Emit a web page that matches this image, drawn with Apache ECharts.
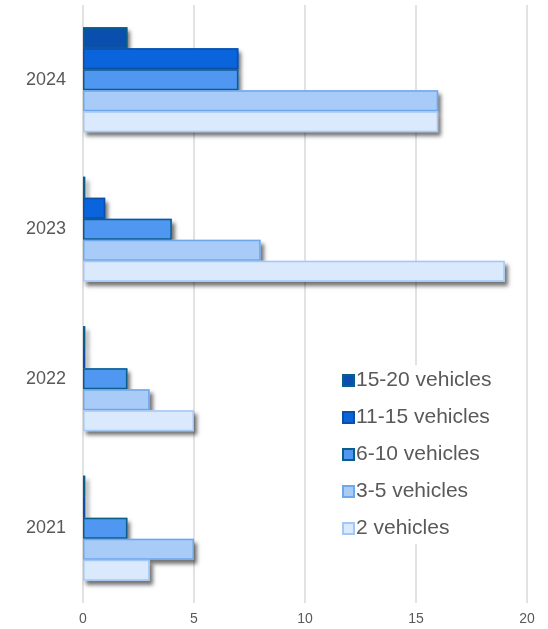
<!DOCTYPE html>
<html>
<head>
<meta charset="utf-8">
<script src="https://cdn.jsdelivr.net/npm/echarts@6/dist/echarts.min.js"></script>
<style>
  html, body { margin: 0; padding: 0; background: #fff; }
  #chart { width: 548px; height: 629px; }
</style>
</head>
<body>
<div id="chart"></div>
<script>
// years, bottom to top
var years = ['2021', '2022', '2023', '2024'];
var xTicks = [0, 5, 10, 15, 20];

// one array per household size, in year order above
var v2 = [3, 5, 19, 16];
var v3to5 = [5, 3, 8, 16];
var v6to10 = [2, 2, 4, 7];
var v11to15 = [0.1, 0.1, 1, 7];
var v15to20 = [0.1, 0.1, 0.1, 2];

var groups = [
    { name: '15-20 vehicles', data: v15to20, fill: '#0a4fae', border: '#0a5e8a' },
    { name: '11-15 vehicles', data: v11to15, fill: '#0a64dc', border: '#0b4fa8' },
    { name: '6-10 vehicles', data: v6to10, fill: '#5097f2', border: '#0a5e8a' },
    { name: '3-5 vehicles', data: v3to5, fill: '#a8cbf7', border: '#6fa8ea' },
    { name: '2 vehicles', data: v2, fill: '#dbe9fc', border: '#a4c8f5' }
];

var chart = echarts.init(document.getElementById('chart'));

// bordered bars on top (no shadow), so the stroke does not cast a shadow inside
var series = [];
groups.forEach(function (g) {
    series.push({
        name: g.name,
        type: 'bar',
        yAxisIndex: 1,
        data: g.data,
        barWidth: 21,
        barGap: '0%',
        z: 3,
        itemStyle: { color: g.fill, borderColor: g.border, borderWidth: 1.5 },
        emphasis: { disabled: true }
    });
});
// shadow layer underneath
groups.forEach(function (g) {
    series.push({
        name: g.name,
        type: 'bar',
        yAxisIndex: 0,
        data: g.data,
        barWidth: 21,
        barGap: '0%',
        z: 2,
        itemStyle: {
            color: g.fill,
            shadowColor: 'rgba(0,0,0,0.55)',
            shadowBlur: 4,
            shadowOffsetX: 3,
            shadowOffsetY: 4
        },
        emphasis: { disabled: true }
    });
});

var yLabel = {
    fontFamily: 'Liberation Sans',
    fontSize: 18,
    color: '#595959',
    margin: 17
};

var option = {
    animation: false,
    grid: {
        left: 83,
        right: 21,
        top: 5,
        bottom: 26
    },
    legend: {
        orient: 'vertical',
        left: 336,
        top: 365,
        icon: 'rect',
        itemWidth: 11,
        itemHeight: 11,
        itemGap: 14,
        padding: [4, 6, 4, 6],
        backgroundColor: '#ffffff',
        textStyle: {
            fontFamily: 'Liberation Sans',
            fontSize: 21,
            lineHeight: 23,
            color: '#595959',
            padding: [0, 0, 0, -3]
        },
        data: groups.map(function (g) { return g.name; })
    },
    xAxis: {
        type: 'value',
        min: xTicks[0],
        max: xTicks[xTicks.length - 1],
        interval: 5,
        axisLine: { show: false },
        axisTick: { show: false },
        axisLabel: {
            fontFamily: 'Liberation Sans',
            fontSize: 14,
            color: '#595959',
            margin: 9
        },
        splitLine: { lineStyle: { color: '#d9d9d9', width: 1.5 } }
    },
    yAxis: [
        {
            type: 'category',
            data: years,
            axisLine: { show: false },
            axisTick: { show: false },
            axisLabel: yLabel
        },
        {
            type: 'category',
            data: years,
            position: 'left',
            show: false
        }
    ],
    series: series
};

chart.setOption(option);
</script>
</body>
</html>
